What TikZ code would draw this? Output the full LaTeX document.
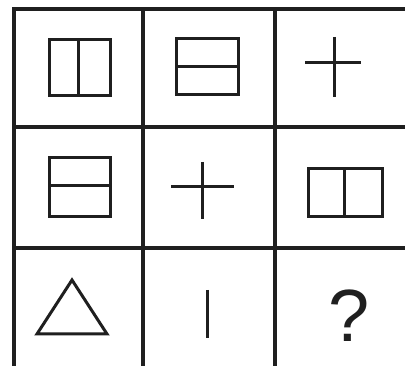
\documentclass[tikz,border=0pt]{standalone}
\usepackage{fontspec}
\setmainfont{Liberation Sans}
\begin{document}
\begin{tikzpicture}[x=1pt,y=-1pt,
  gridline/.style={line width=3.2pt,draw=black!88},
  fig/.style={line width=3.0pt,draw=black!88,line join=miter}]
\useasboundingbox (0,0) rectangle (405,366);
% grid
\draw[gridline] (12.4,9) -- (405,9);
\draw[gridline] (14,127) -- (405,127);
\draw[gridline] (14,248) -- (405,248);
\draw[gridline] (14,7.4) -- (14,366);
\draw[gridline] (143,9) -- (143,366);
\draw[gridline] (275,9) -- (275,366);
% row 1
\draw[fig] (49,40) rectangle (110,96);
\draw[fig] (78,40) -- (78,96);
\draw[fig] (176,39) rectangle (238,95);
\draw[fig] (176,67) -- (238,67);
\draw[fig] (305,63) -- (361,63);
\draw[fig] (334,37) -- (334,97);
% row 2
\draw[fig] (49,158) rectangle (110,217);
\draw[fig] (49,186) -- (110,186);
\draw[fig] (171,187) -- (234,187);
\draw[fig] (202,162) -- (202,219);
\draw[fig] (308,169) rectangle (382,217);
\draw[fig] (344,169) -- (344,217);
% row 3
\draw[fig] (72,280) -- (107,334) -- (37,334) -- cycle;
\draw[fig] (207,290) -- (207,338);
\node[font=\fontsize{74}{74}\selectfont,text=black!88,inner sep=0pt,anchor=base] (q) at (349,342) {?};
\end{tikzpicture}
\end{document}
